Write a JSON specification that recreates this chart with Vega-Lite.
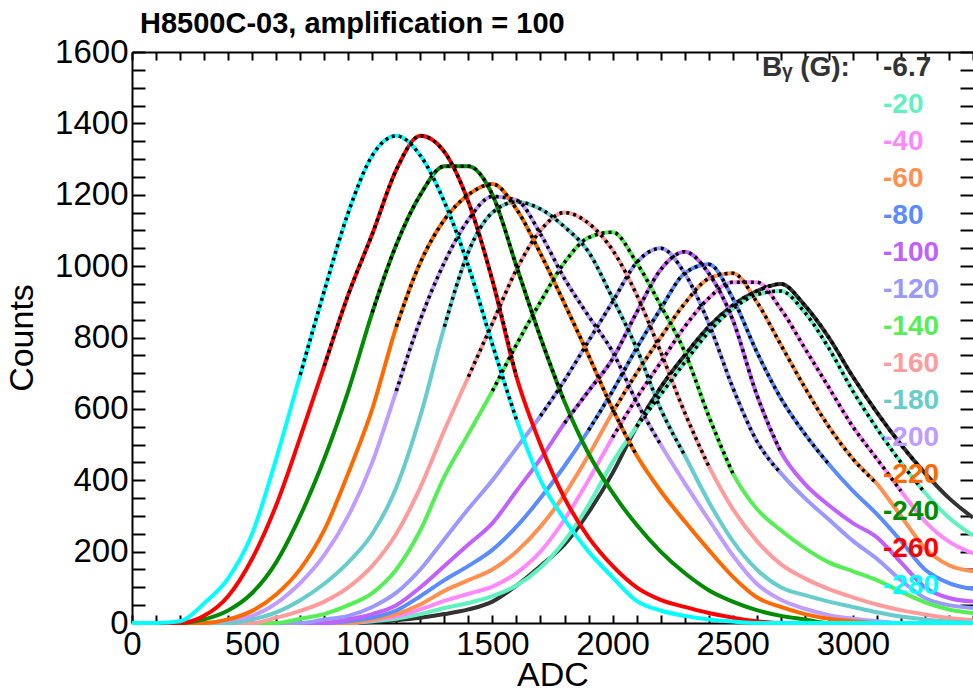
{
  "$schema": "https://vega.github.io/schema/vega-lite/v6.json",
  "width": 841,
  "height": 571,
  "autosize": {"type": "none"},
  "padding": {"left": 132, "top": 52, "right": 0, "bottom": 68},
  "background": "white",
  "config": {"view": {"stroke": null}, "font": "Liberation Sans"},
  "title": {"text": "H8500C-03, amplification = 100", "anchor": "start", "frame": "group", "dx": 8, "offset": -3, "fontSize": 29, "fontWeight": "bold", "font": "Liberation Sans", "color": "#000"},
  "datasets": {
    "h": [
      {"series":"-6.7","adc":0,"counts":0},{"series":"-6.7","adc":900,"counts":0},{"series":"-6.7","adc":1000,"counts":3},{"series":"-6.7","adc":1100,"counts":8},{"series":"-6.7","adc":1200,"counts":15},{"series":"-6.7","adc":1300,"counts":25},{"series":"-6.7","adc":1400,"counts":38},{"series":"-6.7","adc":1500,"counts":60},{"series":"-6.7","adc":1600,"counts":105},{"series":"-6.7","adc":1700,"counts":160},{"series":"-6.7","adc":1800,"counts":220},{"series":"-6.7","adc":1900,"counts":310},{"series":"-6.7","adc":2000,"counts":420},{"series":"-6.7","adc":2100,"counts":550,"fit":550},{"series":"-6.7","adc":2200,"counts":660,"fit":660},{"series":"-6.7","adc":2300,"counts":750,"fit":750},{"series":"-6.7","adc":2400,"counts":830,"fit":830},{"series":"-6.7","adc":2500,"counts":890,"fit":890},{"series":"-6.7","adc":2600,"counts":930,"fit":930},{"series":"-6.7","adc":2700,"counts":950,"fit":950},{"series":"-6.7","adc":2800,"counts":890,"fit":890},{"series":"-6.7","adc":2900,"counts":800,"fit":800},{"series":"-6.7","adc":3000,"counts":690,"fit":690},{"series":"-6.7","adc":3100,"counts":590,"fit":590},{"series":"-6.7","adc":3200,"counts":500,"fit":500},{"series":"-6.7","adc":3300,"counts":420,"fit":420},{"series":"-6.7","adc":3400,"counts":350},{"series":"-6.7","adc":3500,"counts":295},

      {"series":"-20","adc":0,"counts":0},{"series":"-20","adc":900,"counts":0},{"series":"-20","adc":1000,"counts":5},{"series":"-20","adc":1100,"counts":12},{"series":"-20","adc":1200,"counts":25},{"series":"-20","adc":1300,"counts":42},{"series":"-20","adc":1400,"counts":56},{"series":"-20","adc":1500,"counts":75},{"series":"-20","adc":1600,"counts":105},{"series":"-20","adc":1700,"counts":155},{"series":"-20","adc":1800,"counts":230},{"series":"-20","adc":1900,"counts":330},{"series":"-20","adc":2000,"counts":450},{"series":"-20","adc":2100,"counts":550,"fit":550},{"series":"-20","adc":2200,"counts":640,"fit":640},{"series":"-20","adc":2300,"counts":730,"fit":730},{"series":"-20","adc":2400,"counts":815,"fit":815},{"series":"-20","adc":2500,"counts":880,"fit":880},{"series":"-20","adc":2600,"counts":920,"fit":920},{"series":"-20","adc":2700,"counts":930,"fit":930},{"series":"-20","adc":2800,"counts":870,"fit":870},{"series":"-20","adc":2900,"counts":770,"fit":770},{"series":"-20","adc":3000,"counts":650,"fit":650},{"series":"-20","adc":3100,"counts":545,"fit":545},{"series":"-20","adc":3200,"counts":450,"fit":450},{"series":"-20","adc":3300,"counts":365,"fit":365},{"series":"-20","adc":3400,"counts":295},{"series":"-20","adc":3500,"counts":245},

      {"series":"-40","adc":0,"counts":0},{"series":"-40","adc":900,"counts":0},{"series":"-40","adc":1000,"counts":8},{"series":"-40","adc":1100,"counts":18},{"series":"-40","adc":1200,"counts":38},{"series":"-40","adc":1300,"counts":62},{"series":"-40","adc":1400,"counts":82},{"series":"-40","adc":1500,"counts":102},{"series":"-40","adc":1600,"counts":140},{"series":"-40","adc":1700,"counts":200},{"series":"-40","adc":1800,"counts":290},{"series":"-40","adc":1900,"counts":400},{"series":"-40","adc":2000,"counts":520,"fit":520},{"series":"-40","adc":2100,"counts":630,"fit":630},{"series":"-40","adc":2200,"counts":730,"fit":730},{"series":"-40","adc":2300,"counts":830,"fit":830},{"series":"-40","adc":2400,"counts":910,"fit":910},{"series":"-40","adc":2500,"counts":955,"fit":955},{"series":"-40","adc":2600,"counts":955,"fit":955},{"series":"-40","adc":2700,"counts":880,"fit":880},{"series":"-40","adc":2800,"counts":770,"fit":770},{"series":"-40","adc":2900,"counts":660,"fit":660},{"series":"-40","adc":3000,"counts":550,"fit":550},{"series":"-40","adc":3100,"counts":460,"fit":460},{"series":"-40","adc":3200,"counts":370,"fit":370},{"series":"-40","adc":3300,"counts":285},{"series":"-40","adc":3400,"counts":228},{"series":"-40","adc":3500,"counts":195},

      {"series":"-60","adc":0,"counts":0},{"series":"-60","adc":900,"counts":0},{"series":"-60","adc":1000,"counts":10},{"series":"-60","adc":1100,"counts":25},{"series":"-60","adc":1200,"counts":52},{"series":"-60","adc":1300,"counts":90},{"series":"-60","adc":1400,"counts":120},{"series":"-60","adc":1500,"counts":150},{"series":"-60","adc":1600,"counts":200},{"series":"-60","adc":1700,"counts":270},{"series":"-60","adc":1800,"counts":360},{"series":"-60","adc":1900,"counts":470},{"series":"-60","adc":2000,"counts":590,"fit":590},{"series":"-60","adc":2100,"counts":700,"fit":700},{"series":"-60","adc":2200,"counts":800,"fit":800},{"series":"-60","adc":2300,"counts":895,"fit":895},{"series":"-60","adc":2400,"counts":965,"fit":965},{"series":"-60","adc":2500,"counts":980,"fit":980},{"series":"-60","adc":2600,"counts":900,"fit":900},{"series":"-60","adc":2700,"counts":780,"fit":780},{"series":"-60","adc":2800,"counts":660,"fit":660},{"series":"-60","adc":2900,"counts":550,"fit":550},{"series":"-60","adc":3000,"counts":460,"fit":460},{"series":"-60","adc":3100,"counts":390,"fit":390},{"series":"-60","adc":3200,"counts":300},{"series":"-60","adc":3300,"counts":210},{"series":"-60","adc":3400,"counts":162},{"series":"-60","adc":3500,"counts":145},

      {"series":"-80","adc":0,"counts":0},{"series":"-80","adc":800,"counts":0},{"series":"-80","adc":900,"counts":5},{"series":"-80","adc":1000,"counts":15},{"series":"-80","adc":1100,"counts":35},{"series":"-80","adc":1200,"counts":75},{"series":"-80","adc":1300,"counts":120},{"series":"-80","adc":1400,"counts":160},{"series":"-80","adc":1500,"counts":205},{"series":"-80","adc":1600,"counts":270},{"series":"-80","adc":1700,"counts":350},{"series":"-80","adc":1800,"counts":440},{"series":"-80","adc":1900,"counts":540,"fit":540},{"series":"-80","adc":2000,"counts":650,"fit":650},{"series":"-80","adc":2100,"counts":770,"fit":770},{"series":"-80","adc":2200,"counts":880,"fit":880},{"series":"-80","adc":2300,"counts":980,"fit":980},{"series":"-80","adc":2400,"counts":1005,"fit":1005},{"series":"-80","adc":2500,"counts":910,"fit":910},{"series":"-80","adc":2600,"counts":760,"fit":760},{"series":"-80","adc":2700,"counts":630,"fit":630},{"series":"-80","adc":2800,"counts":530,"fit":530},{"series":"-80","adc":2900,"counts":445,"fit":445},{"series":"-80","adc":3000,"counts":370},{"series":"-80","adc":3100,"counts":305},{"series":"-80","adc":3200,"counts":230},{"series":"-80","adc":3300,"counts":150},{"series":"-80","adc":3400,"counts":112},{"series":"-80","adc":3500,"counts":95},

      {"series":"-100","adc":0,"counts":0},{"series":"-100","adc":800,"counts":0},{"series":"-100","adc":900,"counts":10},{"series":"-100","adc":1000,"counts":25},{"series":"-100","adc":1100,"counts":50},{"series":"-100","adc":1200,"counts":100},{"series":"-100","adc":1300,"counts":160},{"series":"-100","adc":1400,"counts":220},{"series":"-100","adc":1500,"counts":280},{"series":"-100","adc":1600,"counts":370},{"series":"-100","adc":1700,"counts":460},{"series":"-100","adc":1800,"counts":560,"fit":560},{"series":"-100","adc":1900,"counts":650,"fit":650},{"series":"-100","adc":2000,"counts":740,"fit":740},{"series":"-100","adc":2100,"counts":870,"fit":870},{"series":"-100","adc":2200,"counts":990,"fit":990},{"series":"-100","adc":2300,"counts":1040,"fit":1040},{"series":"-100","adc":2400,"counts":980,"fit":980},{"series":"-100","adc":2500,"counts":850,"fit":850},{"series":"-100","adc":2600,"counts":640,"fit":640},{"series":"-100","adc":2700,"counts":480,"fit":480},{"series":"-100","adc":2800,"counts":390},{"series":"-100","adc":2900,"counts":330},{"series":"-100","adc":3000,"counts":280},{"series":"-100","adc":3100,"counts":240},{"series":"-100","adc":3200,"counts":170},{"series":"-100","adc":3300,"counts":100},{"series":"-100","adc":3400,"counts":70},{"series":"-100","adc":3500,"counts":60},

      {"series":"-120","adc":0,"counts":0},{"series":"-120","adc":700,"counts":0},{"series":"-120","adc":800,"counts":10},{"series":"-120","adc":900,"counts":20},{"series":"-120","adc":1000,"counts":45},{"series":"-120","adc":1100,"counts":85},{"series":"-120","adc":1200,"counts":150},{"series":"-120","adc":1300,"counts":235},{"series":"-120","adc":1400,"counts":320},{"series":"-120","adc":1500,"counts":400},{"series":"-120","adc":1600,"counts":490},{"series":"-120","adc":1700,"counts":580,"fit":580},{"series":"-120","adc":1800,"counts":680,"fit":680},{"series":"-120","adc":1900,"counts":790,"fit":790},{"series":"-120","adc":2000,"counts":900,"fit":900},{"series":"-120","adc":2100,"counts":1010,"fit":1010},{"series":"-120","adc":2200,"counts":1050,"fit":1050},{"series":"-120","adc":2300,"counts":980,"fit":980},{"series":"-120","adc":2400,"counts":840,"fit":840},{"series":"-120","adc":2500,"counts":660,"fit":660},{"series":"-120","adc":2600,"counts":510,"fit":510},{"series":"-120","adc":2700,"counts":420,"fit":420},{"series":"-120","adc":2800,"counts":350},{"series":"-120","adc":2900,"counts":290},{"series":"-120","adc":3000,"counts":230},{"series":"-120","adc":3100,"counts":180},{"series":"-120","adc":3200,"counts":120},{"series":"-120","adc":3300,"counts":70},{"series":"-120","adc":3400,"counts":50},{"series":"-120","adc":3500,"counts":42},

      {"series":"-140","adc":0,"counts":0},{"series":"-140","adc":600,"counts":0},{"series":"-140","adc":700,"counts":12},{"series":"-140","adc":800,"counts":25},{"series":"-140","adc":900,"counts":50},{"series":"-140","adc":1000,"counts":84},{"series":"-140","adc":1100,"counts":150},{"series":"-140","adc":1200,"counts":260},{"series":"-140","adc":1300,"counts":410},{"series":"-140","adc":1400,"counts":530},{"series":"-140","adc":1500,"counts":650,"fit":650},{"series":"-140","adc":1600,"counts":780,"fit":780},{"series":"-140","adc":1700,"counts":900,"fit":900},{"series":"-140","adc":1800,"counts":1010,"fit":1010},{"series":"-140","adc":1900,"counts":1080,"fit":1080},{"series":"-140","adc":2000,"counts":1095,"fit":1095},{"series":"-140","adc":2100,"counts":1010,"fit":1010},{"series":"-140","adc":2200,"counts":890,"fit":890},{"series":"-140","adc":2300,"counts":760,"fit":760},{"series":"-140","adc":2400,"counts":580,"fit":580},{"series":"-140","adc":2500,"counts":420,"fit":420},{"series":"-140","adc":2600,"counts":320},{"series":"-140","adc":2700,"counts":260},{"series":"-140","adc":2800,"counts":210},{"series":"-140","adc":2900,"counts":170},{"series":"-140","adc":3000,"counts":145},{"series":"-140","adc":3100,"counts":120},{"series":"-140","adc":3200,"counts":88},{"series":"-140","adc":3300,"counts":58},{"series":"-140","adc":3400,"counts":38},{"series":"-140","adc":3500,"counts":28},

      {"series":"-160","adc":0,"counts":0},{"series":"-160","adc":500,"counts":0},{"series":"-160","adc":600,"counts":15},{"series":"-160","adc":700,"counts":34},{"series":"-160","adc":800,"counts":60},{"series":"-160","adc":900,"counts":100},{"series":"-160","adc":1000,"counts":160},{"series":"-160","adc":1100,"counts":250},{"series":"-160","adc":1200,"counts":380},{"series":"-160","adc":1300,"counts":540},{"series":"-160","adc":1400,"counts":690,"fit":690},{"series":"-160","adc":1500,"counts":840,"fit":840},{"series":"-160","adc":1600,"counts":990,"fit":990},{"series":"-160","adc":1700,"counts":1100,"fit":1100},{"series":"-160","adc":1800,"counts":1150,"fit":1150},{"series":"-160","adc":1900,"counts":1120,"fit":1120},{"series":"-160","adc":2000,"counts":1045,"fit":1045},{"series":"-160","adc":2100,"counts":920,"fit":920},{"series":"-160","adc":2200,"counts":760,"fit":760},{"series":"-160","adc":2300,"counts":590,"fit":590},{"series":"-160","adc":2400,"counts":440,"fit":440},{"series":"-160","adc":2500,"counts":320},{"series":"-160","adc":2600,"counts":230},{"series":"-160","adc":2700,"counts":165},{"series":"-160","adc":2800,"counts":125},{"series":"-160","adc":2900,"counts":95},{"series":"-160","adc":3000,"counts":72},{"series":"-160","adc":3100,"counts":52},{"series":"-160","adc":3200,"counts":36},{"series":"-160","adc":3300,"counts":24},{"series":"-160","adc":3400,"counts":14},{"series":"-160","adc":3500,"counts":8},

      {"series":"-180","adc":0,"counts":0},{"series":"-180","adc":400,"counts":0},{"series":"-180","adc":500,"counts":10},{"series":"-180","adc":600,"counts":30},{"series":"-180","adc":700,"counts":64},{"series":"-180","adc":800,"counts":110},{"series":"-180","adc":900,"counts":170},{"series":"-180","adc":1000,"counts":250},{"series":"-180","adc":1100,"counts":380},{"series":"-180","adc":1200,"counts":580},{"series":"-180","adc":1300,"counts":830,"fit":830},{"series":"-180","adc":1400,"counts":1040,"fit":1040},{"series":"-180","adc":1500,"counts":1150,"fit":1150},{"series":"-180","adc":1600,"counts":1180,"fit":1180},{"series":"-180","adc":1700,"counts":1160,"fit":1160},{"series":"-180","adc":1800,"counts":1110,"fit":1110},{"series":"-180","adc":1900,"counts":1040,"fit":1040},{"series":"-180","adc":2000,"counts":910,"fit":910},{"series":"-180","adc":2100,"counts":770,"fit":770},{"series":"-180","adc":2200,"counts":600,"fit":600},{"series":"-180","adc":2300,"counts":470,"fit":470},{"series":"-180","adc":2400,"counts":340},{"series":"-180","adc":2500,"counts":230},{"series":"-180","adc":2600,"counts":150},{"series":"-180","adc":2700,"counts":100},{"series":"-180","adc":2800,"counts":78},{"series":"-180","adc":2900,"counts":60},{"series":"-180","adc":3000,"counts":45},{"series":"-180","adc":3100,"counts":30},{"series":"-180","adc":3200,"counts":18},{"series":"-180","adc":3300,"counts":10},{"series":"-180","adc":3400,"counts":4},{"series":"-180","adc":3500,"counts":0},

      {"series":"-200","adc":0,"counts":0},{"series":"-200","adc":300,"counts":0},{"series":"-200","adc":400,"counts":8},{"series":"-200","adc":500,"counts":20},{"series":"-200","adc":600,"counts":55},{"series":"-200","adc":700,"counts":112},{"series":"-200","adc":800,"counts":190},{"series":"-200","adc":900,"counts":300},{"series":"-200","adc":1000,"counts":450},{"series":"-200","adc":1100,"counts":650,"fit":650},{"series":"-200","adc":1200,"counts":850,"fit":850},{"series":"-200","adc":1300,"counts":1010,"fit":1010},{"series":"-200","adc":1400,"counts":1130,"fit":1130},{"series":"-200","adc":1500,"counts":1195,"fit":1195},{"series":"-200","adc":1600,"counts":1185,"fit":1185},{"series":"-200","adc":1700,"counts":1090,"fit":1090},{"series":"-200","adc":1800,"counts":965,"fit":965},{"series":"-200","adc":1900,"counts":860,"fit":860},{"series":"-200","adc":2000,"counts":760,"fit":760},{"series":"-200","adc":2100,"counts":620,"fit":620},{"series":"-200","adc":2200,"counts":500,"fit":500},{"series":"-200","adc":2300,"counts":392},{"series":"-200","adc":2400,"counts":290},{"series":"-200","adc":2500,"counts":190},{"series":"-200","adc":2600,"counts":110},{"series":"-200","adc":2700,"counts":65},{"series":"-200","adc":2800,"counts":40},{"series":"-200","adc":2900,"counts":22},{"series":"-200","adc":3000,"counts":12},{"series":"-200","adc":3100,"counts":5},{"series":"-200","adc":3200,"counts":0},{"series":"-200","adc":3500,"counts":0},

      {"series":"-220","adc":0,"counts":0},{"series":"-220","adc":300,"counts":0},{"series":"-220","adc":400,"counts":10},{"series":"-220","adc":500,"counts":34},{"series":"-220","adc":600,"counts":80},{"series":"-220","adc":700,"counts":151},{"series":"-220","adc":800,"counts":260},{"series":"-220","adc":900,"counts":420},{"series":"-220","adc":1000,"counts":600},{"series":"-220","adc":1100,"counts":830,"fit":830},{"series":"-220","adc":1200,"counts":1010,"fit":1010},{"series":"-220","adc":1300,"counts":1130,"fit":1130},{"series":"-220","adc":1400,"counts":1200,"fit":1200},{"series":"-220","adc":1500,"counts":1230,"fit":1230},{"series":"-220","adc":1600,"counts":1160,"fit":1160},{"series":"-220","adc":1700,"counts":1035,"fit":1035},{"series":"-220","adc":1800,"counts":895,"fit":895},{"series":"-220","adc":1900,"counts":750,"fit":750},{"series":"-220","adc":2000,"counts":600,"fit":600},{"series":"-220","adc":2100,"counts":470,"fit":470},{"series":"-220","adc":2200,"counts":370},{"series":"-220","adc":2300,"counts":285},{"series":"-220","adc":2400,"counts":205},{"series":"-220","adc":2500,"counts":130},{"series":"-220","adc":2600,"counts":72},{"series":"-220","adc":2700,"counts":45},{"series":"-220","adc":2800,"counts":25},{"series":"-220","adc":2900,"counts":12},{"series":"-220","adc":3000,"counts":5},{"series":"-220","adc":3100,"counts":0},{"series":"-220","adc":3500,"counts":0},

      {"series":"-240","adc":0,"counts":0},{"series":"-240","adc":200,"counts":0},{"series":"-240","adc":300,"counts":10},{"series":"-240","adc":400,"counts":35},{"series":"-240","adc":500,"counts":84},{"series":"-240","adc":600,"counts":170},{"series":"-240","adc":700,"counts":300},{"series":"-240","adc":800,"counts":460},{"series":"-240","adc":900,"counts":650},{"series":"-240","adc":1000,"counts":870,"fit":870},{"series":"-240","adc":1100,"counts":1060,"fit":1060},{"series":"-240","adc":1200,"counts":1200,"fit":1200},{"series":"-240","adc":1300,"counts":1280,"fit":1280},{"series":"-240","adc":1400,"counts":1280,"fit":1280},{"series":"-240","adc":1500,"counts":1200,"fit":1200},{"series":"-240","adc":1600,"counts":1000,"fit":1000},{"series":"-240","adc":1700,"counts":800,"fit":800},{"series":"-240","adc":1800,"counts":620,"fit":620},{"series":"-240","adc":1900,"counts":475},{"series":"-240","adc":2000,"counts":365},{"series":"-240","adc":2100,"counts":275},{"series":"-240","adc":2200,"counts":200},{"series":"-240","adc":2300,"counts":140},{"series":"-240","adc":2400,"counts":92},{"series":"-240","adc":2500,"counts":60},{"series":"-240","adc":2600,"counts":36},{"series":"-240","adc":2700,"counts":20},{"series":"-240","adc":2800,"counts":10},{"series":"-240","adc":2900,"counts":0},{"series":"-240","adc":3500,"counts":0},

      {"series":"-260","adc":0,"counts":0},{"series":"-260","adc":200,"counts":0},{"series":"-260","adc":300,"counts":20},{"series":"-260","adc":400,"counts":75},{"series":"-260","adc":500,"counts":180},{"series":"-260","adc":600,"counts":330},{"series":"-260","adc":700,"counts":520},{"series":"-260","adc":800,"counts":720,"fit":720},{"series":"-260","adc":900,"counts":920,"fit":920},{"series":"-260","adc":1000,"counts":1090,"fit":1090},{"series":"-260","adc":1100,"counts":1270,"fit":1270},{"series":"-260","adc":1200,"counts":1365,"fit":1365},{"series":"-260","adc":1300,"counts":1320,"fit":1320},{"series":"-260","adc":1400,"counts":1180,"fit":1180},{"series":"-260","adc":1500,"counts":960,"fit":960},{"series":"-260","adc":1600,"counts":690,"fit":690},{"series":"-260","adc":1700,"counts":500},{"series":"-260","adc":1800,"counts":350},{"series":"-260","adc":1900,"counts":240},{"series":"-260","adc":2000,"counts":160},{"series":"-260","adc":2100,"counts":100},{"series":"-260","adc":2200,"counts":65},{"series":"-260","adc":2300,"counts":45},{"series":"-260","adc":2400,"counts":28},{"series":"-260","adc":2500,"counts":15},{"series":"-260","adc":2600,"counts":5},{"series":"-260","adc":2700,"counts":0},{"series":"-260","adc":3500,"counts":0},

      {"series":"-280","adc":0,"counts":0},{"series":"-280","adc":100,"counts":0},{"series":"-280","adc":200,"counts":5},{"series":"-280","adc":300,"counts":55},{"series":"-280","adc":400,"counts":125},{"series":"-280","adc":500,"counts":250},{"series":"-280","adc":600,"counts":460},{"series":"-280","adc":700,"counts":695,"fit":695},{"series":"-280","adc":800,"counts":930,"fit":930},{"series":"-280","adc":900,"counts":1150,"fit":1150},{"series":"-280","adc":1000,"counts":1310,"fit":1310},{"series":"-280","adc":1100,"counts":1365,"fit":1365},{"series":"-280","adc":1200,"counts":1310,"fit":1310},{"series":"-280","adc":1300,"counts":1180,"fit":1180},{"series":"-280","adc":1400,"counts":1000,"fit":1000},{"series":"-280","adc":1500,"counts":780,"fit":780},{"series":"-280","adc":1600,"counts":570,"fit":570},{"series":"-280","adc":1700,"counts":400},{"series":"-280","adc":1800,"counts":290},{"series":"-280","adc":1900,"counts":200},{"series":"-280","adc":2000,"counts":128},{"series":"-280","adc":2100,"counts":62},{"series":"-280","adc":2200,"counts":35},{"series":"-280","adc":2300,"counts":20},{"series":"-280","adc":2400,"counts":10},{"series":"-280","adc":2500,"counts":4},{"series":"-280","adc":2600,"counts":0},{"series":"-280","adc":3500,"counts":0}
    ]
  },
  "data": {"name": "h"},
  "layer": [
    {
      "mark": {"type": "line", "interpolate": "monotone", "strokeWidth": 4, "strokeJoin": "round"},
      "encoding": {
        "x": {
          "field": "adc", "type": "quantitative",
          "scale": {"domain": [0, 3500], "nice": false, "zero": false},
          "axis": {
            "orient": "bottom", "title": "ADC", "titleFontSize": 34, "titleFontWeight": "normal", "titleColor": "#000", "titlePadding": -3, "titleFont": "Liberation Sans",
            "values": [0,100,200,300,400,500,600,700,800,900,1000,1100,1200,1300,1400,1500,1600,1700,1800,1900,2000,2100,2200,2300,2400,2500,2600,2700,2800,2900,3000,3100,3200,3300,3400,3500],
            "format": "d",
            "labelExpr": "(datum.value % 500 === 0 && datum.value < 3500) ? datum.label : ''",
            "labelFontSize": 33, "labelColor": "#000", "labelPadding": 13, "labelOverlap": false, "labelFlush": false, "labelBound": false, "labelFont": "Liberation Sans",
            "grid": false, "tickSize": -8, "tickColor": "#000", "tickWidth": 2, "domainColor": "#000", "domainWidth": 2,
            "encode": {"ticks": {"update": {"y2": {"signal": "datum.value % 500 === 0 ? -16 : -8"}}}}
          }
        },
        "y": {
          "field": "counts", "type": "quantitative",
          "scale": {"domain": [0, 1600], "nice": false},
          "axis": {
            "orient": "left", "title": "Counts", "titleFontSize": 34, "titleFontWeight": "normal", "titleColor": "#000", "titlePadding": 15, "titleFont": "Liberation Sans",
            "values": [0,50,100,150,200,250,300,350,400,450,500,550,600,650,700,750,800,850,900,950,1000,1050,1100,1150,1200,1250,1300,1350,1400,1450,1500,1550,1600],
            "format": "d",
            "labelExpr": "datum.value % 200 === 0 ? datum.label : ''",
            "labelFontSize": 33, "labelColor": "#000", "labelPadding": 17, "labelOverlap": false, "labelFlush": false, "labelBound": false, "labelFont": "Liberation Sans",
            "grid": false, "tickSize": -13, "tickColor": "#000", "tickWidth": 2, "domainColor": "#000", "domainWidth": 2,
            "encode": {"ticks": {"update": {"x2": {"signal": "datum.value % 200 === 0 ? 26 : 13"}}}}
          }
        },
        "color": {
          "field": "series", "type": "nominal",
          "scale": {
            "domain": ["-6.7","-20","-40","-60","-80","-100","-120","-140","-160","-180","-200","-220","-240","-260","-280"],
            "range": ["#333333","#5ff2bf","#ff88ff","#ff9050","#5a8cff","#c060ff","#9999ff","#55ee55","#ff9b9b","#66cccc","#c09cff","#ff6a00","#008c00","#ff0000","#00ffff"]
          },
          "legend": {
            "orient": "none", "legendX": 630, "legendY": 2, "padding": 0,
            "title": "Bᵧ (G):", "titleOrient": "left", "titleAnchor": "start", "titleBaseline": "top", "titleFontSize": 28, "titleFontWeight": "bold", "titleFont": "Liberation Sans", "titleColor": "#333333", "titlePadding": 5,
            "labelFontSize": 28, "labelFontWeight": "bold", "labelFont": "Liberation Sans", "labelOffset": 0,
            "symbolOpacity": 0, "symbolSize": 0, "symbolStrokeWidth": 0, "rowPadding": 9, "direction": "vertical",
            "encode": {"labels": {"update": {"fill": {"scale": "color", "field": "value"}}}}
          }
        }
      }
    },
    {
      "transform": [{"filter": "isValid(datum.fit)"}],
      "mark": {"type": "line", "interpolate": "monotone", "color": "#000", "strokeWidth": 3.5, "strokeDash": [3, 4]},
      "encoding": {
        "x": {
          "field": "adc", "type": "quantitative",
          "scale": {"domain": [0, 3500], "nice": false, "zero": false},
          "axis": {
            "orient": "top", "title": null, "labels": false,
            "values": [0,100,200,300,400,500,600,700,800,900,1000,1100,1200,1300,1400,1500,1600,1700,1800,1900,2000,2100,2200,2300,2400,2500,2600,2700,2800,2900,3000,3100,3200,3300,3400,3500],
            "grid": false, "tickSize": -8, "tickColor": "#000", "tickWidth": 2, "domainColor": "#000", "domainWidth": 2,
            "encode": {"ticks": {"update": {"y2": {"signal": "datum.value % 500 === 0 ? 16 : 8"}}}}
          }
        },
        "y": {
          "field": "fit", "type": "quantitative",
          "scale": {"domain": [0, 1600], "nice": false},
          "axis": {
            "orient": "right", "title": null, "labels": false, "domain": false,
            "values": [0,50,100,150,200,250,300,350,400,450,500,550,600,650,700,750,800,850,900,950,1000,1050,1100,1150,1200,1250,1300,1350,1400,1450,1500,1550,1600],
            "grid": false, "tickSize": -13, "tickColor": "#000", "tickWidth": 2,
            "encode": {"ticks": {"update": {"x2": {"signal": "datum.value % 200 === 0 ? -26 : -13"}}}}
          }
        },
        "detail": {"field": "series"}
      }
    }
  ],
  "resolve": {"axis": {"x": "independent", "y": "independent"}}
}
